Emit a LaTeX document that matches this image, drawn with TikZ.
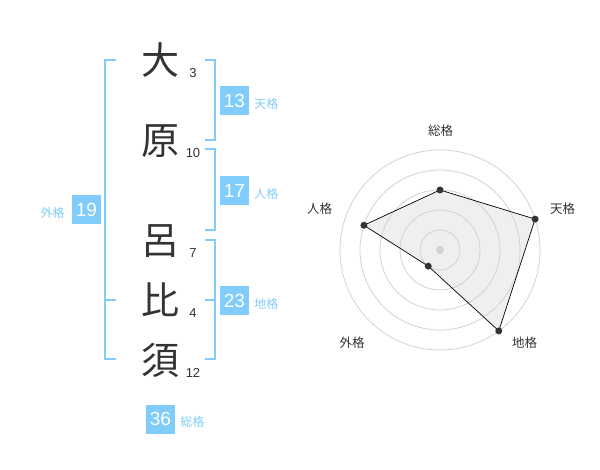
\documentclass[tikz,border=0pt]{standalone}
\usepackage{fontspec}
\setmainfont{Liberation Sans}
\newfontfamily\jp{Noto Sans CJK JP}
\usetikzlibrary{positioning}
\definecolor{sky}{RGB}{128,204,250}
\definecolor{ink}{RGB}{51,51,51}
\definecolor{ring}{RGB}{210,210,210}
\definecolor{web}{RGB}{239,239,239}

\begin{document}
\begin{tikzpicture}[x=1pt,y=-1pt,
    kanji/.style={font=\jp\fontsize{38}{38}\selectfont,text=ink,inner sep=0pt},
    strokes/.style={font=\fontsize{13}{13}\selectfont,text=ink,inner sep=0pt},
    score/.style={fill=sky,text=white,minimum size=29pt,inner sep=0pt,font=\fontsize{19}{19}\selectfont},
    kaku/.style={font=\jp\fontsize{12}{12}\selectfont,text=sky,inner sep=0pt},
    axis/.style={font=\jp\fontsize{12.5}{12.5}\selectfont,text=ink,inner sep=0pt},
    brace/.style={draw=sky,line width=2pt},
    dot/.style={circle,fill=ink,inner sep=0pt,minimum size=7pt}]
    \useasboundingbox (0,0) rectangle (600,470);

    % name
    \node[kanji] (c1) at (160,60)  {大};
    \node[kanji] (c2) at (160,141) {原};
    \node[kanji] (c3) at (160,241) {呂};
    \node[kanji] (c4) at (160,300) {比};
    \node[kanji] (c5) at (160,360) {須};
    \node[strokes] (s1) at (193,73)  {3};
    \node[strokes] (s2) at (193,153) {10};
    \node[strokes] (s3) at (193,253) {7};
    \node[strokes] (s4) at (193,313) {4};
    \node[strokes] (s5) at (193,373) {12};

    % brackets
    \draw[brace] (116,60) -- (105,60) -- (105,359) -- (116,359);
    \draw[brace] (105,300) -- (116,300);
    \draw[brace] (205,60) -- (215,60) -- (215,140) -- (205,140);
    \draw[brace] (205,149) -- (215,149) -- (215,230) -- (205,230);
    \draw[brace] (205,240) -- (215,240) -- (215,359) -- (205,359);
    \draw[brace] (205,300) -- (215,300);

    % scores
    \node[score] (ten)   at (234.5,100.5) {13};
    \node[score] (jin)   at (234.5,190.5) {17};
    \node[score] (chi)   at (234.5,301)   {23};
    \node[score] (gai)   at (86.5,210)    {19};
    \node[score] (sou)   at (160.5,419)   {36};
    \node[kaku,right=5pt of ten,yshift=-3pt] (tenl) {天格};
    \node[kaku,right=5pt of jin,yshift=-3pt] (jinl) {人格};
    \node[kaku,right=5pt of chi,yshift=-3pt] (chil) {地格};
    \node[kaku,left=7pt of gai,yshift=-3pt]  (gail) {外格};
    \node[kaku,right=5pt of sou,yshift=-3pt] (soul) {総格};

    % radar
    \coordinate (o) at (440,250);
    \path (o) ++(90:60pt)   coordinate (r1)
          (o) ++(18:100pt)  coordinate (r2)
          (o) ++(-54:100pt) coordinate (r3)
          (o) ++(-126:20pt) coordinate (r4)
          (o) ++(162:80pt)  coordinate (r5);
    \fill[web] (r1) -- (r2) -- (r3) -- (r4) -- (r5) -- cycle;
    \foreach \r in {20,40,60,80,100}
        \draw[ring,line width=0.8pt] (o) circle[radius=\r pt];
    \fill[ring] (o) circle[radius=4pt];
    \draw[black,line width=0.7pt] (r1) -- (r2) -- (r3) -- (r4) -- (r5) -- cycle;
    \foreach \i in {1,...,5}
        \node[dot] (d\i) at (r\i) {};
    \node[axis] (a1) at (440.5,131)  {総格};
    \node[axis] (a2) at (562.5,208.5) {天格};
    \node[axis] (a3) at (524.5,342.5) {地格};
    \node[axis] (a4) at (352,342.5)   {外格};
    \node[axis] (a5) at (319.5,208.5) {人格};
\end{tikzpicture}
\end{document}
